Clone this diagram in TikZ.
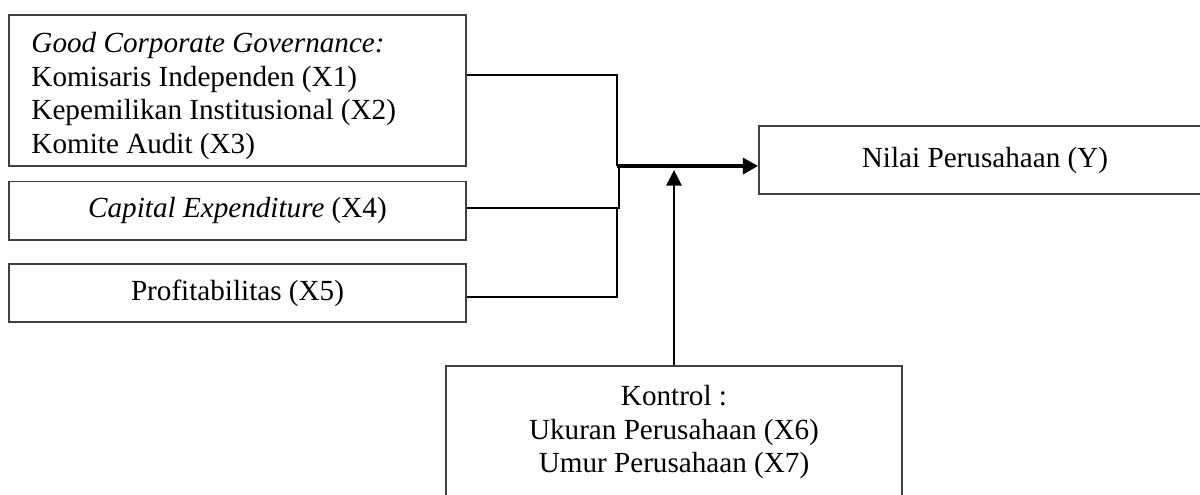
\documentclass[tikz,border=0pt]{standalone}
\usepackage{fontspec}
\setmainfont{Liberation Serif}
\usetikzlibrary{arrows.meta}
\begin{document}
\begin{tikzpicture}[x=0.4115pt,y=-0.4115pt,
  box/.style={draw=black!75,line width=0.8pt,rectangle,inner sep=0pt,font=\fontsize{12pt}{13.8pt}\selectfont},
  txt/.style={inner sep=0pt,font=\fontsize{12pt}{13.8pt}\selectfont},
  conn/.style={draw=black,line width=0.75pt},
  mainarrow/.style={draw=black,line width=1.3pt,-{Triangle[length=6.2pt,width=6.6pt]}},
  ctrlarrow/.style={draw=black,line width=0.85pt,-{Triangle[length=6.4pt,width=6.2pt]}}]
\useasboundingbox (0,0) rectangle (1200,494);
\clip (0,0) rectangle (1200,494);
% boxes
\node[box,minimum width=457*0.4115pt,minimum height=151*0.4115pt] (b1) at (237.5,90.5) {};
\node[txt,anchor=north west,align=left] (t1) at (31,32) {\textit{Good Corporate Governance:}\\Komisaris Independen (X1)\\Kepemilikan Institusional (X2)\\Komite Audit (X3)};
\node[box,minimum width=457*0.4115pt,minimum height=58.5*0.4115pt] (b2) at (237.5,210.75) {\textit{Capital Expenditure} (X4)};
\node[box,minimum width=457*0.4115pt,minimum height=58*0.4115pt] (b3) at (237.5,293) {Profitabilitas (X5)};
\node[box,minimum width=452*0.4115pt,minimum height=68*0.4115pt] (y) at (985,160) {Nilai Perusahaan (Y)};
\node[box,minimum width=456*0.4115pt,minimum height=200*0.4115pt] (k) at (674,466) {};
\node[txt,anchor=north,align=center] (tk) at (674,385) {Kontrol :\\Ukuran Perusahaan (X6)\\Umur Perusahaan (X7)};
% connectors
\coordinate (j) at (617,166);
\coordinate (c1) at (617,75);
\coordinate (c2) at (619,208);
\coordinate (c3) at (617,297);
\coordinate (c2b) at (619,166);
\coordinate (c3b) at (617,208);
\coordinate (kt) at (674,170);
\draw[conn,line width=0.85pt] (c1 -| b1.east) -- (c1) -- (j);
\draw[conn] (c2 -| b2.east) -- (c2) -- (c2b);
\draw[conn] (c3 -| b3.east) -- (c3) -- (c3b);
\draw[mainarrow] (j) -- (j -| y.west);
\draw[ctrlarrow] (k.north) -- (kt);
\end{tikzpicture}
\end{document}
